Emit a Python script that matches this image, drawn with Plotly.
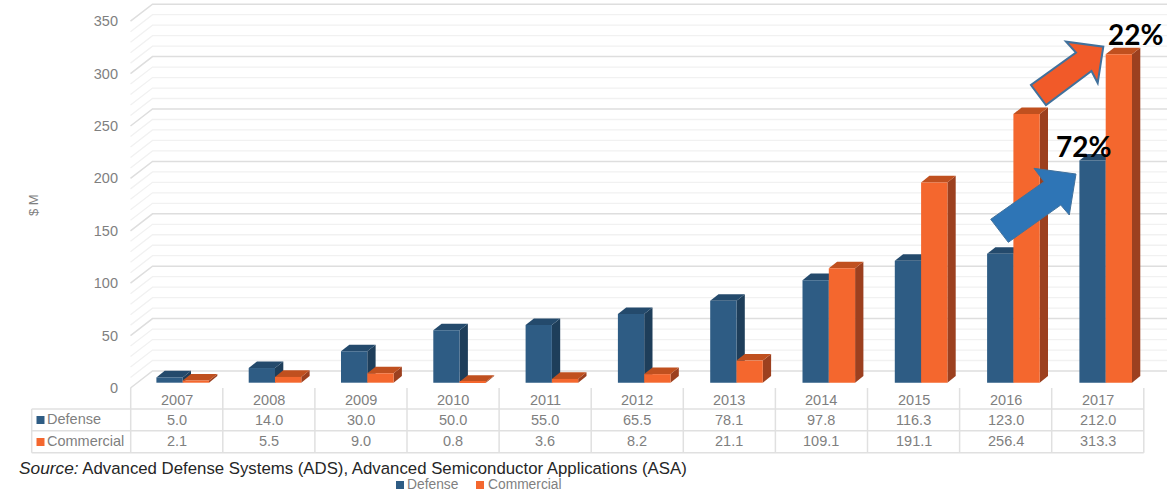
import plotly.graph_objects as go

# Annual revenue, $M
years = [2007, 2008, 2009, 2010, 2011, 2012, 2013, 2014, 2015, 2016, 2017]
defense = [5.0, 14.0, 30.0, 50.0, 55.0, 65.5, 78.1, 97.8, 116.3, 123.0, 212.0]
commercial = [2.1, 5.5, 9.0, 0.8, 3.6, 8.2, 21.1, 109.1, 191.1, 256.4, 313.3]
y_ticks = [0, 50, 100, 150, 200, 250, 300, 350]
source_org = "Advanced Defense Systems (ADS), Advanced Semiconductor Applications (ASA)"

W, H = 1173, 492
PX_PER_YEAR = 92.3
PX_PER_UNIT = 1.048
FIRST_YEAR_PX = 182.7
BASE_PX = 382.7
WALL_FRONT = (130.5, 388.0)
WALL_BACK = (152.5, 371.0)
WALL_RIGHT_PX = 1167.0
BAR_DEPTH = (8.3, 6.6)
TABLE_LEFT, TABLE_X0, TABLE_DX = 31.7, 130.7, 92.1
TABLE_TOP, TABLE_ROW1, TABLE_ROW2, TABLE_BOTTOM = 388.0, 409.0, 430.7, 452.7

BLUE = dict(front="#2e5c84", side="#1e3e5a", top="#244a6c", swatch="#2e5c84")
ORANGE = dict(front="#f4672e", side="#9c401f", top="#c0501f", swatch="#f4672e")
GREY_TEXT = "#7f7f7f"
FONT = "Liberation Sans, Arial, sans-serif"


def year_x(px):
    return years[0] + (px - FIRST_YEAR_PX) / PX_PER_YEAR


def unit_y(py):
    return (BASE_PX - py) / PX_PER_UNIT


def paper_x(px):
    return px / W


def paper_y(py):
    return 1 - py / H


def poly(points):
    return "M" + " L".join(f"{x:.4f},{y:.4f}" for x, y in points) + " Z"


def open_path(points):
    return "M" + " L".join(f"{x:.4f},{y:.4f}" for x, y in points)


shapes = []

# Receding gridlines: a short diagonal on the side wall, then across the back wall
wall_front_offset = unit_y(WALL_FRONT[1])
wall_back_offset = unit_y(WALL_BACK[1])
for value in range(0, 360, 10):
    major = value % 50 == 0
    path = open_path([
        (year_x(WALL_FRONT[0]), value + wall_front_offset),
        (year_x(WALL_BACK[0]), value + wall_back_offset),
        (year_x(WALL_RIGHT_PX), value + wall_back_offset),
    ])
    shapes.append(dict(type="path", path=path, xref="x", yref="y", layer="below",
                       line=dict(color="#dedede" if major else "#f1f1f1",
                                 width=1.5 if major else 1.3)))

# Side and top faces of each bar sit under the front faces drawn by the bar traces
bar_w = 26.3 / PX_PER_YEAR
dx = BAR_DEPTH[0] / PX_PER_YEAR
dy = BAR_DEPTH[1] / PX_PER_UNIT


def add_faces(values, left_offset, colors):
    for year, value in zip(years, values):
        x0 = year + left_offset
        x1 = x0 + bar_w
        shapes.append(dict(type="path", xref="x", yref="y", layer="below",
                           path=poly([(x1, 0), (x1 + dx, dy), (x1 + dx, value + dy), (x1, value)]),
                           fillcolor=colors["side"], line=dict(width=0)))
        shapes.append(dict(type="path", xref="x", yref="y", layer="below",
                           path=poly([(x0, value), (x0 + dx, value + dy), (x1 + dx, value + dy), (x1, value)]),
                           fillcolor=colors["top"], line=dict(width=0)))


add_faces(defense, -bar_w, BLUE)
add_faces(commercial, 0, ORANGE)

# Data table rules
RULE = dict(color="#e0e0e0", width=1.5)
table_right = TABLE_X0 + TABLE_DX * len(years)
for py in (TABLE_ROW1, TABLE_ROW2, TABLE_BOTTOM):
    shapes.append(dict(type="line", xref="paper", yref="paper",
                       x0=paper_x(TABLE_LEFT), x1=paper_x(table_right),
                       y0=paper_y(py), y1=paper_y(py), line=RULE))
shapes.append(dict(type="line", xref="paper", yref="paper",
                   x0=paper_x(TABLE_LEFT), x1=paper_x(TABLE_LEFT),
                   y0=paper_y(TABLE_ROW1), y1=paper_y(TABLE_BOTTOM), line=RULE))
for i in range(len(years) + 1):
    px = TABLE_X0 + TABLE_DX * i
    shapes.append(dict(type="line", xref="paper", yref="paper",
                       x0=paper_x(px), x1=paper_x(px),
                       y0=paper_y(TABLE_TOP), y1=paper_y(TABLE_BOTTOM), line=RULE))


def swatch(px0, py0, size, color):
    shapes.append(dict(type="rect", xref="paper", yref="paper",
                       x0=paper_x(px0), x1=paper_x(px0 + size),
                       y0=paper_y(py0), y1=paper_y(py0 + size),
                       fillcolor=color, line=dict(width=0)))


swatch(36.5, 416, 8, BLUE["swatch"])
swatch(36.5, 438, 8, ORANGE["swatch"])
swatch(396, 481, 8, BLUE["swatch"])
swatch(476, 481, 8, ORANGE["swatch"])


# Growth arrows
def paper_poly(points):
    return poly([(paper_x(x), paper_y(y)) for x, y in points])


shapes.append(dict(type="path", xref="paper", yref="paper", layer="above",
                   path=paper_poly([(1103.3, 46.7), (1097.7, 83), (1091.5, 71), (1046, 105),
                                    (1031, 85), (1076, 52.5), (1066, 41.7)]),
                   fillcolor="#f15a29", line=dict(color="#41719c", width=2)))
shapes.append(dict(type="path", xref="paper", yref="paper", layer="above",
                   path=paper_poly([(1076, 174), (1069.3, 215), (1060.7, 205), (1008.3, 242.3),
                                    (990.7, 219.3), (1044, 181.7), (1034, 168.3)]),
                   fillcolor="#2e75b6", line=dict(color="#41719c", width=1)))

annotations = []


def text(px, py, s, size=14.5, color=GREY_TEXT, anchor="center", family=FONT, **kw):
    annotations.append(dict(x=paper_x(px), y=paper_y(py), xref="paper", yref="paper", text=s,
                            showarrow=False, xanchor=anchor, yanchor="middle", borderpad=0,
                            font=dict(size=size, color=color, family=family), **kw))


for i, year in enumerate(years):
    cx = TABLE_X0 + TABLE_DX * (i + 0.5)
    text(cx, 400, str(year))
    text(cx, 419.5, f"{defense[i]:.1f}")
    text(cx, 441, f"{commercial[i]:.1f}")

text(46, 419, "Defense", anchor="left")
text(46, 441, "Commercial", anchor="left")
text(406, 484, "Defense", size=13.8, anchor="left")
text(487, 484, "Commercial", size=13.8, anchor="left")
text(33, 205, "$ M", size=13, textangle=-90)
text(18, 467.8, f'<i><span style="font-size:17.3px">Source:</span></i> {source_org}',
     size=16.8, color="#262626", anchor="left")
text(1135, 34, "<b>22%</b>", size=28, color="#000000", family="Lato, sans-serif")
text(1083, 146, "<b>72%</b>", size=28, color="#000000", family="Lato, sans-serif")

fig = go.Figure()
fig.add_bar(x=years, y=defense, name="Defense", marker=dict(color=BLUE["front"], line_width=0))
fig.add_bar(x=years, y=commercial, name="Commercial", marker=dict(color=ORANGE["front"], line_width=0))
# Carries the value axis on the near edge of the side wall
fig.add_scatter(x=years[:2], y=y_ticks[:2], yaxis="y2", mode="lines", line=dict(width=0),
                opacity=0, hoverinfo="skip", showlegend=False)

fig.update_layout(
    width=W, height=H, margin=dict(l=0, r=0, t=0, b=0),
    paper_bgcolor="white", plot_bgcolor="rgba(0,0,0,0)",
    showlegend=False, barmode="group", bargap=1 - 2 * 26.3 / PX_PER_YEAR, bargroupgap=0,
    shapes=shapes, annotations=annotations,
    xaxis=dict(visible=False, range=[year_x(0), year_x(W)], domain=[0, 1]),
    yaxis=dict(visible=False, range=[unit_y(H), unit_y(0)], domain=[0, 1]),
    yaxis2=dict(overlaying="y", anchor="free", position=paper_x(118), side="left",
                range=[(WALL_FRONT[1] - H) / PX_PER_UNIT, WALL_FRONT[1] / PX_PER_UNIT],
                tickvals=y_ticks, showgrid=False, zeroline=False, showline=False, ticks="",
                tickfont=dict(size=14.5, color=GREY_TEXT, family=FONT)),
)

fig.write_html("out.html", config=dict(displayModeBar=False))
